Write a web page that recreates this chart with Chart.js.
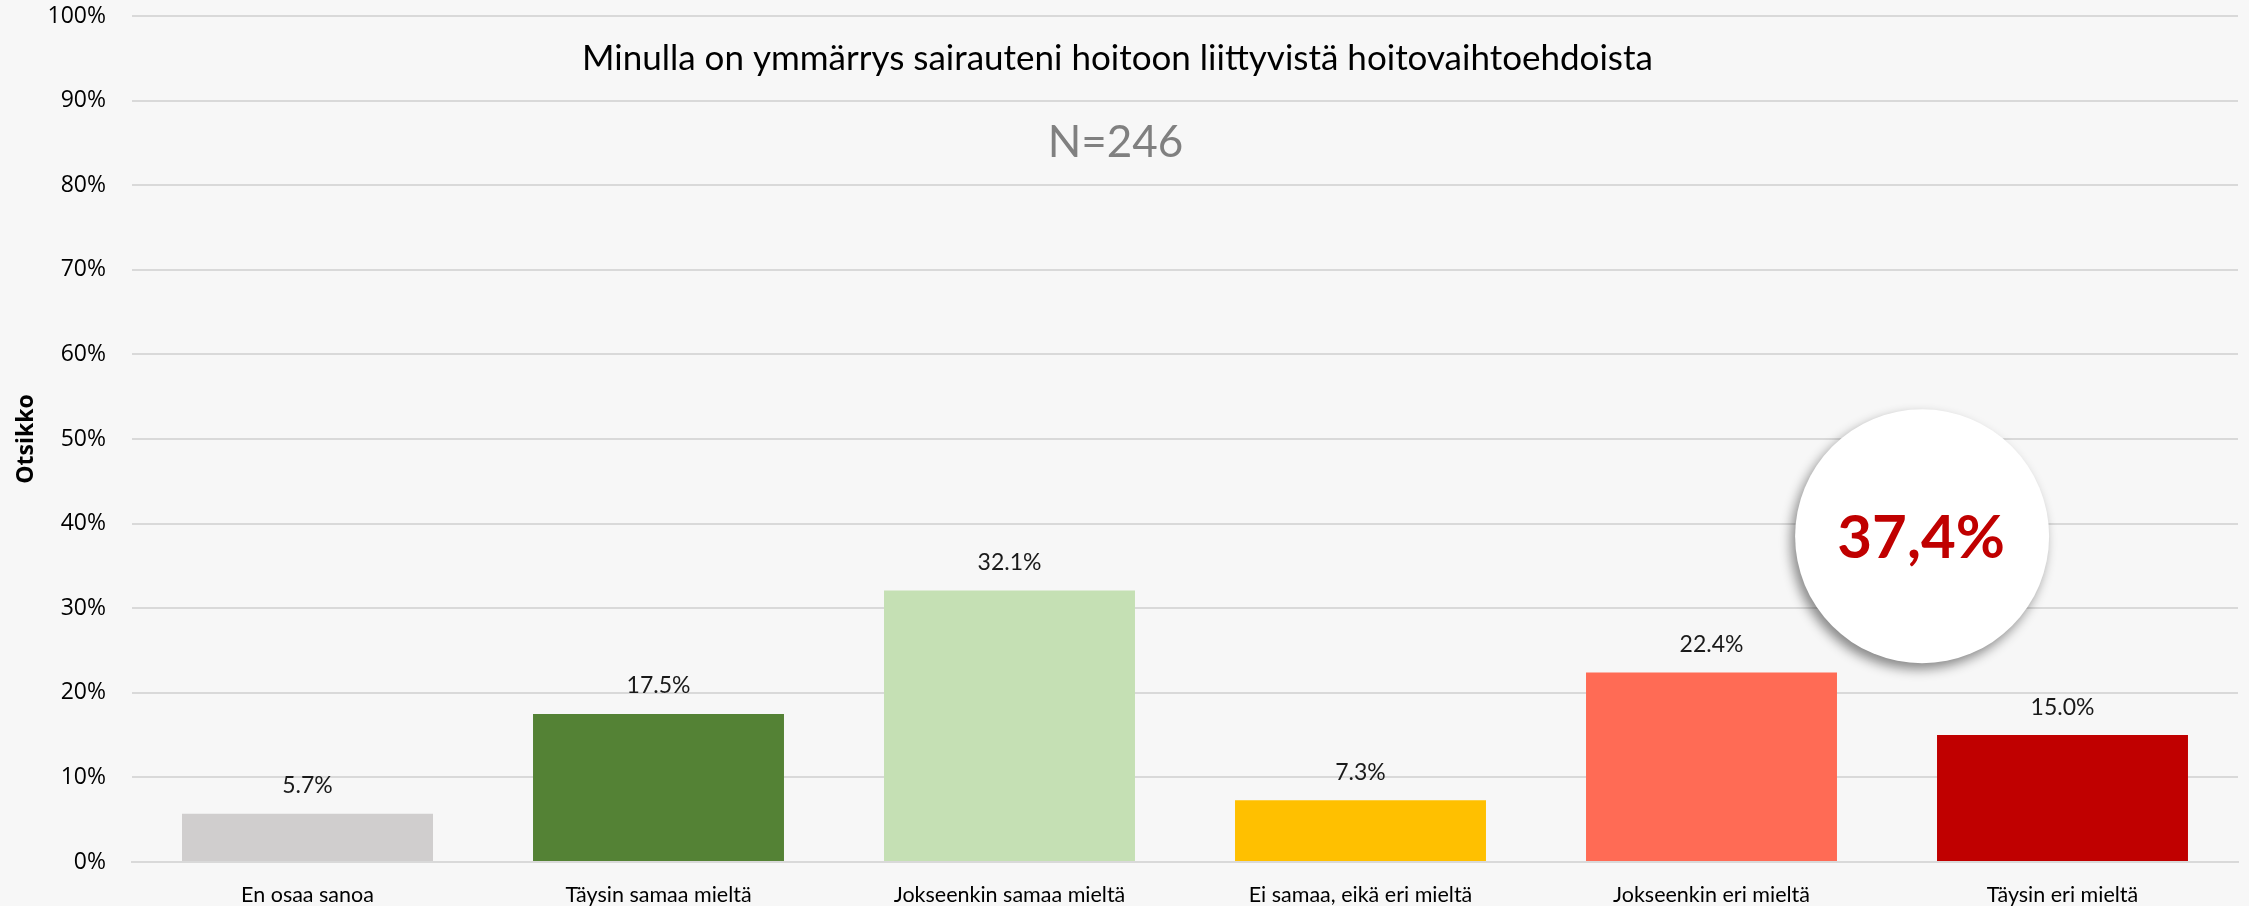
<!DOCTYPE html>
<html>
<head>
<meta charset="utf-8">
<script src="https://cdn.jsdelivr.net/npm/chart.js@4.4.1/dist/chart.umd.min.js"></script>
<style>
  html, body { margin: 0; padding: 0; background: #f7f7f7; }
  #wrap { width: 2249px; height: 906px; }
</style>
</head>
<body>
<div id="wrap"><canvas id="the-chart" width="2249" height="906"></canvas></div>
<script>
var categories = [
  "En osaa sanoa",
  "Täysin samaa mieltä",
  "Jokseenkin samaa mieltä",
  "Ei samaa, eikä eri mieltä",
  "Jokseenkin eri mieltä",
  "Täysin eri mieltä"
];
var shares = [5.7, 17.5, 32.1, 7.3, 22.4, 15.0];
var barColors = ["#d0cece", "#548235", "#c5e0b4", "#ffc000", "#ff6b55", "#c00000"];
var yTickValues = [0, 10, 20, 30, 40, 50, 60, 70, 80, 90, 100];

var chartTitle = "Minulla on ymmärrys sairauteni hoitoon liittyvistä hoitovaihtoehdoista";
var sampleText = "N=246";
var badgeText = "37,4%";
// where the badge sits, in axis units (category index, percent)
var badgeAt = { x: 4.6, y: 38.5 };

var narrow = "Lato, 'Open Sans', sans-serif";
var axisFont = "'Open Sans', 'Noto Sans', sans-serif";

var background = {
  id: "background",
  beforeDraw: function (chart) {
    var ctx = chart.ctx;
    ctx.save();
    ctx.fillStyle = "#f7f7f7";
    ctx.fillRect(0, 0, chart.width, chart.height);
    ctx.restore();
  }
};

var headings = {
  id: "headings",
  afterDatasetsDraw: function (chart) {
    var ctx = chart.ctx, cx = chart.width / 2;
    ctx.save();
    ctx.textAlign = "center";
    ctx.textBaseline = "middle";
    ctx.fillStyle = "#000";
    ctx.font = "35px " + narrow;
    ctx.fillText(chartTitle, cx - 7, 59);
    ctx.fillStyle = "#808080";
    ctx.font = "44px " + narrow;
    ctx.fillText(sampleText, cx - 9, 143);
    ctx.restore();
  }
};

var valueLabels = {
  id: "valueLabels",
  afterDatasetsDraw: function (chart) {
    var ctx = chart.ctx;
    var bars = chart.getDatasetMeta(0).data;
    ctx.save();
    ctx.textAlign = "center";
    ctx.textBaseline = "middle";
    ctx.fillStyle = "#1a1a1a";
    ctx.font = "23px " + narrow;
    bars.forEach(function (bar, i) {
      ctx.fillText(shares[i].toFixed(1) + "%", bar.x, bar.y - 28);
    });
    ctx.restore();
  }
};

var badge = {
  id: "badge",
  afterDatasetsDraw: function (chart) {
    var ctx = chart.ctx;
    var x = chart.scales.x.getPixelForValue(badgeAt.x);
    var y = chart.scales.y.getPixelForValue(badgeAt.y);
    ctx.save();
    ctx.shadowColor = "rgba(0,0,0,0.45)";
    ctx.shadowBlur = 12;
    ctx.shadowOffsetX = -4;
    ctx.shadowOffsetY = 6;
    ctx.fillStyle = "#fff";
    ctx.beginPath();
    ctx.arc(x, y, 127, 0, Math.PI * 2);
    ctx.fill();
    ctx.restore();

    ctx.save();
    ctx.fillStyle = "#c00000";
    ctx.textAlign = "center";
    ctx.textBaseline = "middle";
    ctx.font = "bold 60px " + narrow;
    ctx.fillText(badgeText, x - 1, y + 2);
    ctx.restore();
  }
};

new Chart(document.getElementById("the-chart"), {
  type: "bar",
  data: {
    labels: categories,
    datasets: [{
      data: shares,
      backgroundColor: barColors,
      borderWidth: 0,
      categoryPercentage: 1,
      barPercentage: 0.715
    }]
  },
  options: {
    responsive: false,
    animation: false,
    layout: { padding: { top: 16, right: 11, left: 0, bottom: 0 } },
    plugins: {
      legend: { display: false },
      tooltip: { enabled: false }
    },
    scales: {
      x: {
        grid: { display: false, drawTicks: false },
        border: { color: "#d9d9d9", width: 2 },
        ticks: { color: "#000", padding: 20, font: { family: narrow, size: 21.5 } },
        afterFit: function (scale) {
          scale.height = 44;
          scale.paddingTop = 0;
        }
      },
      y: {
        min: 0,
        max: 100,
        afterBuildTicks: function (scale) {
          scale.ticks = yTickValues.map(function (v) { return { value: v }; });
        },
        grid: { color: "#d9d9d9", lineWidth: 2, drawTicks: false },
        border: { display: false },
        ticks: {
          color: "#000",
          padding: 26,
          font: { family: axisFont, size: 23 },
          callback: function (v) { return v + "%"; }
        },
        title: {
          display: true,
          text: "Otsikko",
          color: "#000",
          padding: { top: 13, bottom: 0 },
          font: { family: axisFont, size: 23, weight: "bold" }
        },
        afterFit: function (scale) {
          scale.width = 132;
          scale.paddingTop = 0;
          scale.paddingBottom = 0;
        }
      }
    }
  },
  plugins: [background, valueLabels, headings, badge]
});
</script>
</body>
</html>
